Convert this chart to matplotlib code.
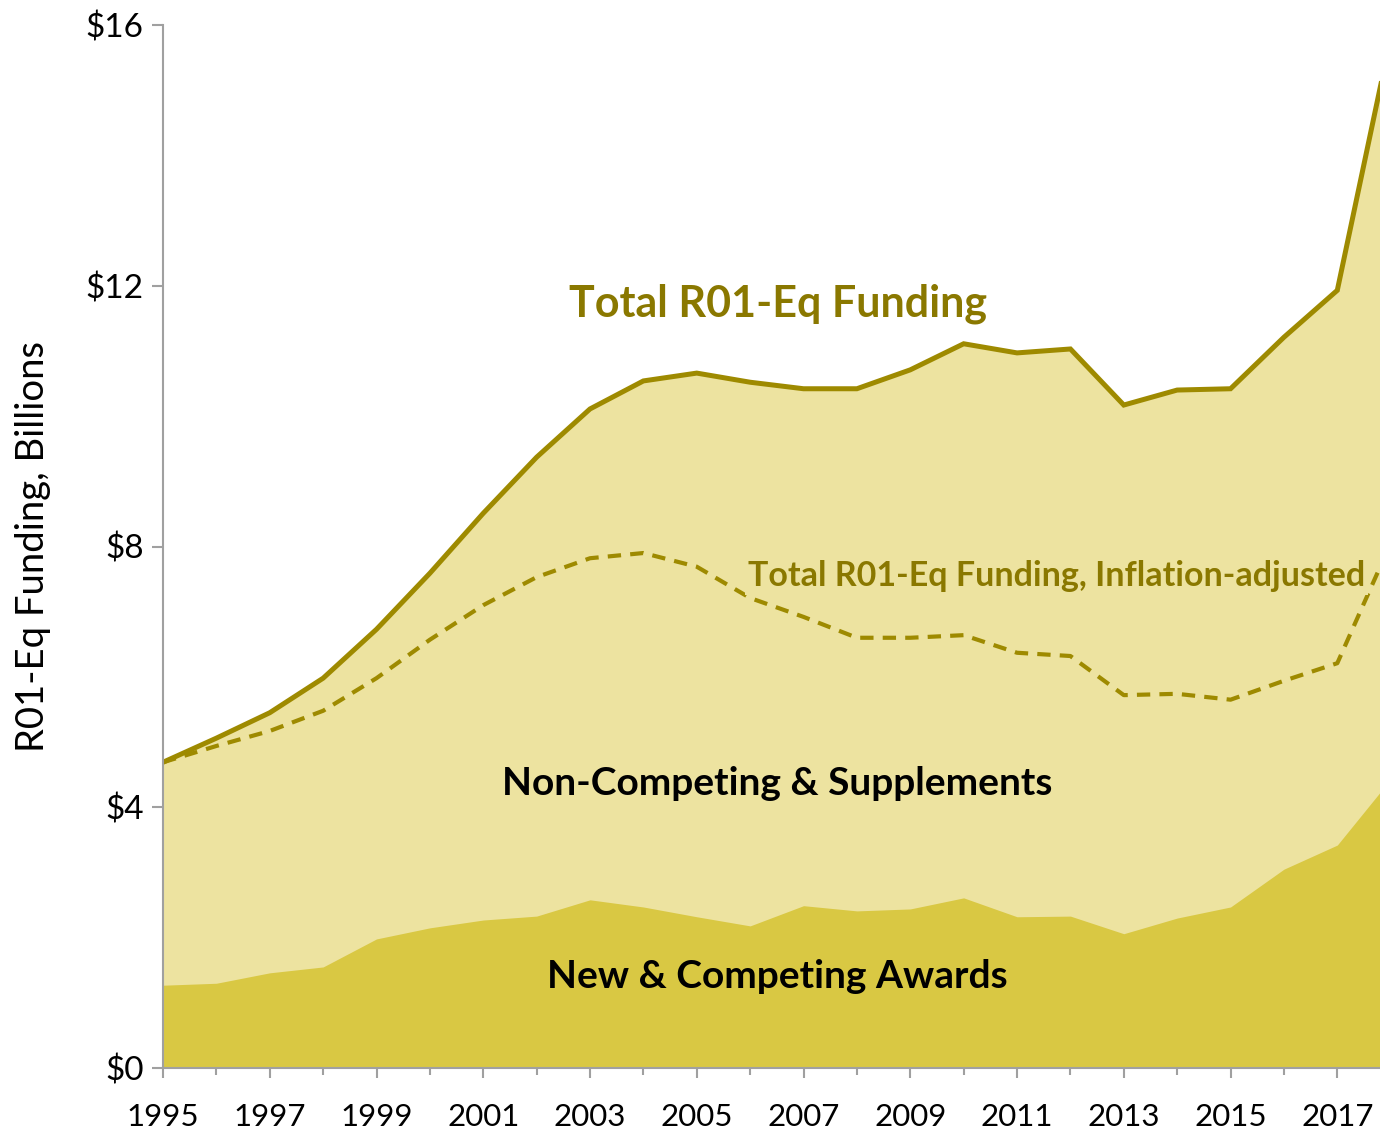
"""R01-equivalent funding, 1995-2018: stacked areas with total lines."""
import matplotlib

matplotlib.use("Agg")
import matplotlib.pyplot as plt

years = list(range(1995, 2019))
new_competing = [1.27, 1.30, 1.46, 1.55, 1.98, 2.15, 2.27, 2.33, 2.58, 2.47, 2.32, 2.18,
                 2.49, 2.41, 2.44, 2.61, 2.32, 2.33, 2.06, 2.30, 2.47, 3.05, 3.42, 4.43]
total = [4.69, 5.06, 5.45, 5.98, 6.73, 7.59, 8.51, 9.37, 10.11, 10.54, 10.66, 10.52,
         10.42, 10.42, 10.71, 11.11, 10.97, 11.03, 10.17, 10.40, 10.42, 11.21, 11.93, 15.8]
total_adjusted = [4.69, 4.94, 5.17, 5.48, 5.98, 6.57, 7.10, 7.53, 7.82, 7.90, 7.69, 7.21,
                  6.92, 6.60, 6.60, 6.64, 6.37, 6.32, 5.72, 5.74, 5.65, 5.94, 6.21, 8.05]
y_ticks = [0, 4, 8, 12, 16]
y_labels = ["$0", "$4", "$8", "$12", "$16"]
x_labels = list(range(1995, 2018, 2))

DARK = "#D9C843"
LIGHT = "#EDE3A0"
LINE = "#9E8A00"
TEXT_GOLD = "#8A7800"
SPINE = "#A0A0A0"

plt.rcParams["font.family"] = ["Lato", "DejaVu Sans"]

fig = plt.figure(figsize=(13.8, 11.29), dpi=100)
ax = fig.add_axes([163 / 1380, 61 / 1129, 1217 / 1380, 1043 / 1129])

ax.fill_between(years, 0, total, color=LIGHT, lw=0)
ax.fill_between(years, 0, new_competing, color=DARK, lw=0)
ax.plot(years, total, color=LINE, lw=3.6, solid_joinstyle="miter")
ax.plot(years, total_adjusted, color=LINE, lw=3.0, dashes=(3.2, 2.2))

ax.set_xlim(1995, 2017.8)
ax.set_ylim(0, 16)
ax.set_yticks(y_ticks)
ax.set_yticklabels(y_labels)
ax.set_xticks(x_labels)
ax.set_xticklabels([str(y) for y in x_labels])
ax.set_xticks(years[:-1], minor=True)

for side in ("top", "right"):
    ax.spines[side].set_visible(False)
for side in ("left", "bottom"):
    ax.spines[side].set_color(SPINE)
    ax.spines[side].set_linewidth(1.5)
ax.tick_params(axis="both", which="major", colors=SPINE, labelcolor="black", width=1.5)
ax.tick_params(axis="x", which="major", length=7, pad=18, labelsize=22.5)
ax.tick_params(axis="x", which="minor", length=5, width=1.5, color=SPINE)
ax.tick_params(axis="y", which="major", length=8, pad=6, labelsize=24)
ax.set_ylabel("R01-Eq Funding, Billions", fontsize=27.5, labelpad=25)

ax.text(2006.53, 11.72, "Total R01-Eq Funding", color=TEXT_GOLD, fontsize=31,
        fontweight="bold", ha="center", va="center")
ax.text(2011.74, 7.55, "Total R01-Eq Funding, Inflation-adjusted", color=TEXT_GOLD,
        fontsize=24.5, fontweight="bold", ha="center", va="center",
        bbox=dict(facecolor=LIGHT, edgecolor="none", pad=2))
ax.text(2006.5, 4.36, "Non-Competing & Supplements", color="black", fontsize=28,
        fontweight="bold", ha="center", va="center")
ax.text(2006.5, 1.40, "New & Competing Awards", color="black", fontsize=28,
        fontweight="bold", ha="center", va="center")

fig.savefig("out.png", dpi=100)
